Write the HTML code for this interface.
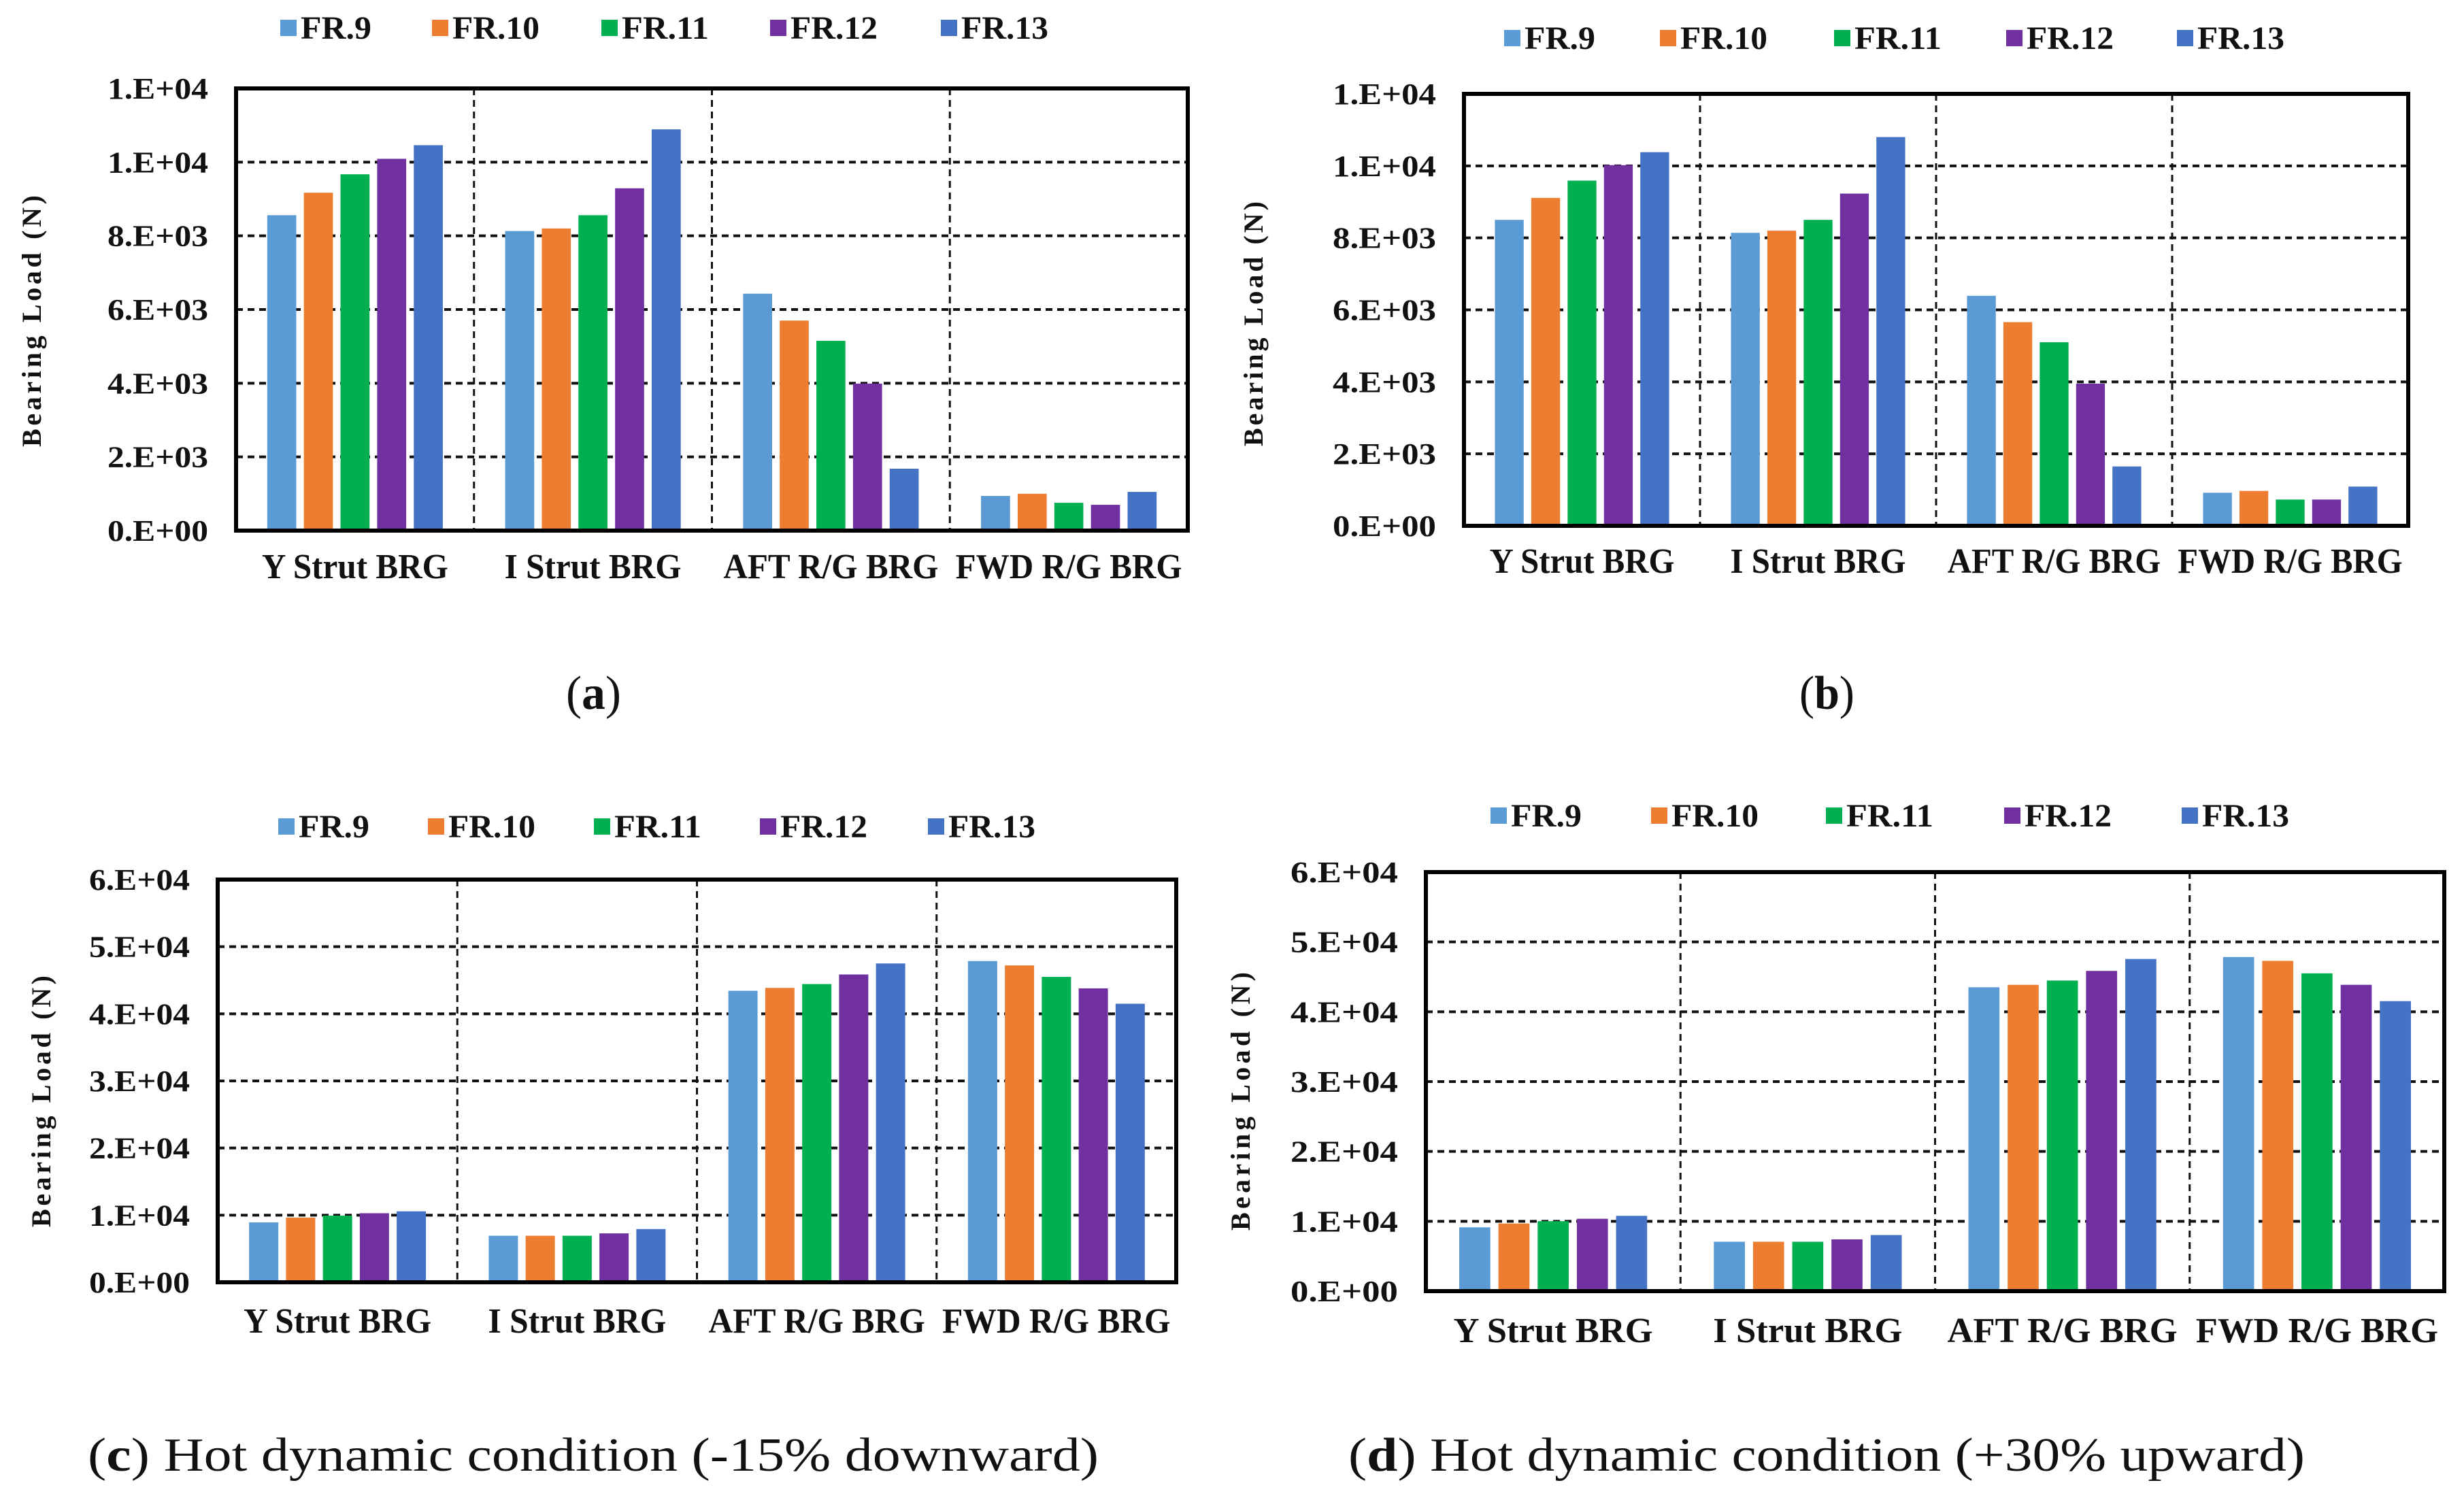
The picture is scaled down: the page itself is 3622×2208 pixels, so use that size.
<!DOCTYPE html>
<html><head><meta charset="utf-8"><style>
html,body{margin:0;padding:0;background:#fff;}
svg{display:block;}
text{font-family:"Liberation Serif",serif;}
</style></head><body>
<svg id="fig" width="3622" height="2208" viewBox="0 0 3622 2208" xmlns="http://www.w3.org/2000/svg"></svg>
<script>
const categories = ["Y Strut BRG", "I Strut BRG", "AFT R/G BRG", "FWD R/G BRG"];
const seriesNames = ["FR.9", "FR.10", "FR.11", "FR.12", "FR.13"];
const ticksAB = ["0.E+00", "2.E+03", "4.E+03", "6.E+03", "8.E+03", "1.E+04", "1.E+04"];
const tickValsAB = [0, 2000, 4000, 6000, 8000, 10000, 12000];
const ticksCD = ["0.E+00", "1.E+04", "2.E+04", "3.E+04", "4.E+04", "5.E+04", "6.E+04"];
const tickValsCD = [0, 10000, 20000, 30000, 40000, 50000, 60000];
// values[series][category]
const valuesA = [
  [8560, 8130, 6430, 940],
  [9170, 8200, 5700, 1000],
  [9670, 8560, 5150, 755],
  [10090, 9290, 3990, 700],
  [10460, 10890, 1680, 1050]
];
const valuesB = [
  [8500, 8140, 6390, 920],
  [9110, 8200, 5660, 970],
  [9590, 8500, 5100, 730],
  [10020, 9230, 3950, 730],
  [10380, 10800, 1650, 1090]
];
const valuesC = [
  [8930, 6930, 43430, 47860],
  [9640, 6930, 43860, 47210],
  [9930, 6930, 44430, 45500],
  [10290, 7290, 45860, 43790],
  [10570, 7930, 47500, 41500]
];
const valuesD = [
  [9130, 7070, 43510, 47840],
  [9680, 7070, 43860, 47290],
  [10020, 7070, 44470, 45500],
  [10360, 7410, 45850, 43860],
  [10780, 8030, 47560, 41520]
];

const colors = ["#5B9BD5", "#ED7D31", "#00B050", "#7030A0", "#4472C4"];
const catW = [274, 260, 316, 333];
const NS = "http://www.w3.org/2000/svg";
const svg = document.getElementById("fig");

function mk(tag, attrs, parent) {
  const e = document.createElementNS(NS, tag);
  for (const k in attrs) e.setAttribute(k, attrs[k]);
  (parent || svg).appendChild(e);
  return e;
}

const panels = [
  {id:"a", vals:valuesA, ticks:ticksAB, tickVals:tickValsAB, L:347, R:1746, T:130, B:780,
   legY:41, legX:[412,635,884,1132,1383], catY:850, tickW:148,
   capPre:"(", capBold:"a", capPost:")", capX:872, capY:1042, capW:0,
   ytX:46, ytY:472, ytLen:370},
  {id:"b", vals:valuesB, ticks:ticksAB, tickVals:tickValsAB, L:2152, R:3540, T:138, B:773,
   legY:56, legX:[2211,2440,2696,2949,3200], catY:842, tickW:152,
   capPre:"(", capBold:"b", capPost:")", capX:2685, capY:1042, capW:0,
   ytX:1842, ytY:476, ytLen:360},
  {id:"c", vals:valuesC, ticks:ticksCD, tickVals:tickValsCD, L:320, R:1729, T:1293, B:1885,
   legY:1215, legX:[409,629,873,1117,1364], catY:1959, tickW:148,
   capPre:"(", capBold:"c", capPost:") Hot dynamic condition (-15% downward)", capX:129, capY:2162, capW:1486,
   ytX:60, ytY:1619, ytLen:370},
  {id:"d", vals:valuesD, ticks:ticksCD, tickVals:tickValsCD, L:2096, R:3593, T:1282, B:1898,
   legY:1199, legX:[2191,2427,2684,2946,3207], catY:1973, tickW:158,
   capPre:"(", capBold:"d", capPost:") Hot dynamic condition (+30% upward)", capX:1982, capY:2162, capW:1406,
   ytX:1823, ytY:1619, ytLen:380}
];

panels.forEach(p => {
  const g = mk("g", {});
  
  
  const ymax = p.tickVals[p.tickVals.length - 1];
  const yScale = v => p.B - (v / ymax) * (p.B - p.T);
  const gw = (p.R - p.L) / categories.length;
  const xGroup = i => p.L + gw * i;
  const ratio = (p.R - p.L) / 1399;

  p.tickVals.forEach((tv, i) => {
    if (i === 0 || i === p.tickVals.length - 1) return;
    const ln = mk("line", {x1:p.L, x2:p.R, y1:yScale(tv), y2:yScale(tv), stroke:"#111", "stroke-width":4, "stroke-dasharray":"10 7"}, g);
    
    
  });
  for (let i = 1; i < categories.length; i++) {
    const ln = mk("line", {x1:xGroup(i), x2:xGroup(i), y1:p.T, y2:p.B, stroke:"#111", "stroke-width":3, "stroke-dasharray":"10 7"}, g);
    
    
  }

  const pitch = gw * 0.154, bw = gw * 0.122;
  p.vals.forEach((ser, s) => {
    ser.forEach((v, c) => {
      const cx = xGroup(c) + gw / 2 + (s - 2) * pitch;
      const y = yScale(v);
      const r = mk("rect", {x:cx - bw / 2, y:y, width:bw, height:p.B - y, fill:colors[s]}, g);
      
      
    });
  });

  const fr = mk("rect", {x:p.L, y:p.T, width:p.R - p.L, height:p.B - p.T, fill:"none", stroke:"#000", "stroke-width":6}, g);
  
  

  p.ticks.forEach((t, i) => {
    const tx = mk("text", {x:p.L - 41 - p.tickW, y:yScale(p.tickVals[i]) + 15, "font-size":44, "font-weight":"bold", textLength:p.tickW, lengthAdjust:"spacingAndGlyphs", fill:"#111"}, g);
    tx.textContent = t;
    
    
  });

  categories.forEach((c, i) => {
    const w = catW[i] * ratio;
    const tx = mk("text", {x:xGroup(i) + gw / 2 - w / 2, y:p.catY, "font-size":52, "font-weight":"bold", fill:"#111", textLength:w, lengthAdjust:"spacingAndGlyphs"}, g);
    tx.textContent = c;
    
    
  });

  seriesNames.forEach((n, s) => {
    const lg = mk("g", {}, g);
    
    
    mk("rect", {x:p.legX[s], y:p.legY - 12, width:24, height:24, fill:colors[s]}, lg);
    const tx = mk("text", {x:p.legX[s] + 30, y:p.legY + 16, "font-size":48, "font-weight":"bold", fill:"#111", textLength:n.length > 4 ? 128 : 104, lengthAdjust:"spacingAndGlyphs"}, lg);
    tx.textContent = n;
  });

  const yt = mk("text", {x:0, y:0, "font-size":40, "font-weight":"bold", "text-anchor":"middle", fill:"#111",
    transform:"translate(" + (p.ytX + 14) + "," + p.ytY + ") rotate(-90)", textLength:p.ytLen, lengthAdjust:"spacing"}, g);
  yt.textContent = "Bearing Load (N)";
  
  

  const capAttrs = {y:p.capY, "font-size":70, fill:"#111"};
  if (p.capW) { capAttrs.x = p.capX; capAttrs.textLength = p.capW; capAttrs.lengthAdjust = "spacingAndGlyphs"; }
  else { capAttrs.x = p.capX - 40; capAttrs.textLength = 81; capAttrs.lengthAdjust = "spacingAndGlyphs"; }
  const cap = mk("text", capAttrs, g);
  
  
  const t1 = mk("tspan", {}, cap); t1.textContent = p.capPre;
  const t2 = mk("tspan", {"font-weight":"bold"}, cap); t2.textContent = p.capBold;
  const t3 = mk("tspan", {}, cap); t3.textContent = p.capPost;
});
</script>
</body></html>
